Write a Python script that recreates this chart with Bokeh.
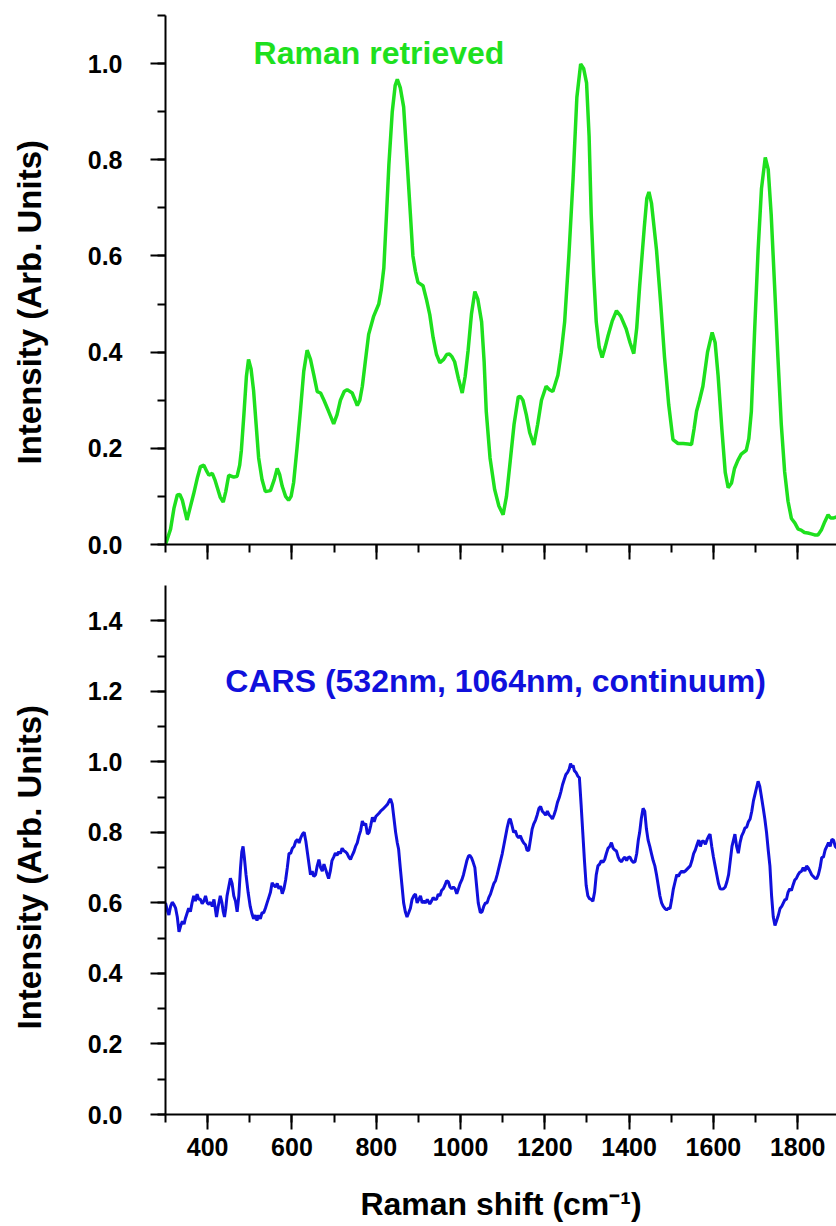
import math
from bokeh.plotting import figure
from bokeh.layouts import column, row
from bokeh.models import Range1d, SingleIntervalTicker, PrintfTickFormatter, Label, CustomJSTickFormatter
from bokeh.core.properties import value
from bokeh.embed import file_html
from bokeh.resources import INLINE

FONT = "Liberation Sans"
GREEN = "#1ee01e"
BLUE = "#1010dc"

# ---------------- data ----------------
raman_x = [300, 312, 320, 328, 334, 340, 351, 358, 367, 376, 383, 391, 398, 403, 411, 417, 423, 430, 437, 443,
           450, 462, 470, 476, 480, 486, 492, 497, 503, 509, 515, 521, 529, 537, 549, 558, 565, 571, 577, 585,
           592, 598, 604, 612, 620, 628, 636, 644, 652, 660, 668, 676, 687, 699, 707, 715, 724, 731, 743, 750,
           755, 761, 767, 774, 782, 794, 806, 812, 818, 824, 830, 838, 845, 850, 857, 865, 873, 881, 887, 893,
           899, 911, 919, 927, 935, 943, 951, 960, 967, 974, 980, 986, 995, 1004, 1011, 1018, 1026, 1034, 1041, 1050,
           1056, 1061, 1070, 1081, 1091, 1101, 1109, 1117, 1127, 1137, 1142, 1148, 1156, 1164, 1174, 1183, 1192, 1203, 1211, 1219,
           1231, 1239, 1247, 1257, 1267, 1276, 1285, 1292, 1299, 1305, 1310, 1316, 1322, 1329, 1336, 1343, 1350, 1360, 1370, 1380,
           1393, 1402, 1411, 1418, 1425, 1436, 1442, 1447, 1453, 1465, 1475, 1484, 1494, 1504, 1516, 1528, 1540, 1548, 1554, 1560,
           1567, 1575, 1586, 1597, 1604, 1611, 1620, 1628, 1635, 1643, 1650, 1658, 1666, 1678, 1684, 1690, 1698, 1706, 1714, 1723,
           1730, 1737, 1745, 1753, 1761, 1769, 1777, 1785, 1793, 1801, 1808, 1816, 1824, 1832, 1840, 1848, 1856, 1864, 1872, 1878,
           1884, 1895]
raman_y = [0.0, 0.032, 0.075, 0.103, 0.104, 0.092, 0.051, 0.075, 0.106, 0.14, 0.162, 0.165, 0.152, 0.144, 0.148, 0.135, 0.118, 0.098, 0.088, 0.11,
           0.144, 0.14, 0.142, 0.165, 0.196, 0.27, 0.35, 0.385, 0.365, 0.32, 0.25, 0.18, 0.135, 0.11, 0.112, 0.135, 0.158, 0.145, 0.121, 0.1,
           0.092, 0.1, 0.129, 0.2, 0.277, 0.36, 0.404, 0.385, 0.352, 0.318, 0.315, 0.3, 0.277, 0.251, 0.27, 0.30, 0.318, 0.322, 0.315, 0.3,
           0.289, 0.3, 0.329, 0.38, 0.437, 0.475, 0.50, 0.53, 0.575, 0.68, 0.79, 0.9, 0.955, 0.967, 0.95, 0.91, 0.8, 0.687, 0.6, 0.568,
           0.545, 0.538, 0.51, 0.478, 0.43, 0.395, 0.378, 0.385, 0.395, 0.396, 0.39, 0.38, 0.345, 0.315, 0.35, 0.404, 0.48, 0.526, 0.51, 0.463,
           0.38, 0.277, 0.18, 0.114, 0.08, 0.062, 0.1, 0.166, 0.25, 0.307, 0.308, 0.30, 0.27, 0.233, 0.207, 0.25, 0.30, 0.329, 0.322, 0.318,
           0.352, 0.4, 0.463, 0.6, 0.76, 0.93, 0.999, 0.99, 0.96, 0.85, 0.687, 0.56, 0.463, 0.41, 0.389, 0.41, 0.434, 0.465, 0.486, 0.475,
           0.448, 0.42, 0.397, 0.45, 0.538, 0.66, 0.72, 0.733, 0.71, 0.612, 0.5, 0.389, 0.29, 0.218, 0.21, 0.21, 0.209, 0.208, 0.24, 0.277,
           0.3, 0.329, 0.40, 0.441, 0.42, 0.352, 0.24, 0.15, 0.118, 0.128, 0.158, 0.175, 0.188, 0.196, 0.22, 0.277, 0.45, 0.612, 0.74, 0.805,
           0.78, 0.687, 0.54, 0.389, 0.25, 0.151, 0.09, 0.054, 0.045, 0.032, 0.03, 0.025, 0.024, 0.022, 0.02, 0.02, 0.03, 0.047, 0.062, 0.055,
           0.055, 0.058]

cars_x = [300, 304, 308, 312, 316, 320, 324, 328, 332, 336, 340, 344, 347, 351, 355, 359, 363, 367, 371, 375,
          379, 383, 387, 391, 395, 399, 403, 407, 411, 415, 418, 421, 425, 430, 434, 437, 440, 443, 446, 450,
          454, 458, 462, 466, 470, 474, 478, 481, 484, 487, 491, 496, 501, 505, 509, 513, 517, 521, 525, 529,
          533, 537, 541, 545, 549, 553, 557, 561, 565, 569, 573, 577, 581, 585, 589, 593, 597, 601, 605, 609,
          613, 617, 621, 625, 629, 633, 637, 641, 644, 648, 652, 656, 660, 664, 668, 672, 676, 680, 684, 687,
          691, 695, 699, 703, 707, 711, 715, 719, 723, 727, 731, 735, 739, 743, 747, 751, 755, 759, 763, 767,
          771, 775, 779, 783, 787, 791, 795, 799, 803, 807, 811, 815, 819, 823, 827, 831, 834, 838, 842, 846,
          850, 853, 857, 861, 865, 869, 873, 877, 881, 885, 889, 893, 897, 901, 905, 909, 913, 917, 921, 927,
          931, 935, 939, 943, 947, 951, 955, 959, 963, 967, 971, 975, 979, 983, 987, 991, 995, 999, 1003, 1007,
          1011, 1015, 1019, 1022, 1026, 1030, 1034, 1038, 1042, 1047, 1051, 1055, 1059, 1063, 1067, 1071, 1075, 1079, 1083, 1087,
          1091, 1095, 1099, 1103, 1107, 1111, 1115, 1118, 1122, 1126, 1130, 1134, 1138, 1142, 1146, 1150, 1154, 1158, 1162, 1166,
          1170, 1174, 1178, 1182, 1186, 1190, 1194, 1198, 1202, 1206, 1210, 1214, 1218, 1222, 1226, 1230, 1234, 1238, 1242, 1246,
          1250, 1254, 1258, 1261, 1264, 1267, 1270, 1274, 1278, 1282, 1286, 1290, 1294, 1298, 1302, 1306, 1310, 1314, 1318, 1322,
          1326, 1330, 1334, 1338, 1342, 1346, 1350, 1354, 1358, 1362, 1366, 1370, 1374, 1378, 1382, 1386, 1390, 1394, 1398, 1402,
          1406, 1410, 1414, 1418, 1422, 1425, 1429, 1433, 1437, 1441, 1445, 1449, 1453, 1457, 1461, 1465, 1469, 1473, 1477, 1481,
          1485, 1489, 1493, 1497, 1501, 1505, 1509, 1513, 1517, 1521, 1525, 1529, 1533, 1537, 1541, 1545, 1549, 1553, 1557, 1561,
          1565, 1569, 1573, 1577, 1581, 1585, 1589, 1592, 1596, 1600, 1604, 1608, 1612, 1616, 1620, 1624, 1628, 1632, 1636, 1640,
          1644, 1648, 1651, 1655, 1659, 1663, 1667, 1671, 1675, 1679, 1683, 1687, 1691, 1695, 1699, 1703, 1706, 1710, 1714, 1718,
          1722, 1726, 1730, 1734, 1738, 1742, 1746, 1750, 1754, 1758, 1762, 1766, 1770, 1773, 1777, 1781, 1785, 1789, 1793, 1797,
          1801, 1805, 1809, 1813, 1817, 1821, 1825, 1829, 1833, 1837, 1841, 1845, 1849, 1853, 1857, 1861, 1865, 1869, 1873, 1877,
          1881, 1885, 1889, 1895]
cars_y = [0.6, 0.58, 0.566, 0.59, 0.602, 0.595, 0.585, 0.56, 0.518, 0.535, 0.548, 0.54, 0.555, 0.57, 0.585, 0.575, 0.6, 0.62, 0.605, 0.625,
          0.61, 0.61, 0.598, 0.605, 0.62, 0.6, 0.596, 0.602, 0.59, 0.61, 0.585, 0.56, 0.59, 0.62, 0.6, 0.575, 0.56, 0.585, 0.62, 0.645,
          0.67, 0.655, 0.62, 0.605, 0.575, 0.62, 0.7, 0.745, 0.76, 0.73, 0.68, 0.63, 0.59, 0.57, 0.555, 0.565, 0.55, 0.565, 0.555, 0.572,
          0.572, 0.585, 0.6, 0.615, 0.63, 0.657, 0.65, 0.645, 0.655, 0.64, 0.648, 0.626, 0.64, 0.665, 0.7, 0.74, 0.741, 0.755, 0.76, 0.775,
          0.78, 0.77, 0.785, 0.795, 0.8, 0.775, 0.74, 0.705, 0.68, 0.69, 0.675, 0.68, 0.705, 0.723, 0.7, 0.69, 0.71, 0.695, 0.68, 0.669,
          0.69, 0.72, 0.73, 0.741, 0.735, 0.745, 0.74, 0.755, 0.748, 0.745, 0.74, 0.73, 0.723, 0.735, 0.745, 0.76, 0.77, 0.79, 0.805, 0.832,
          0.82, 0.825, 0.795, 0.8, 0.82, 0.843, 0.83, 0.845, 0.85, 0.855, 0.861, 0.865, 0.87, 0.875, 0.88, 0.89, 0.895, 0.88, 0.84, 0.8,
          0.77, 0.753, 0.7, 0.65, 0.6, 0.575, 0.56, 0.572, 0.585, 0.61, 0.62, 0.625, 0.6, 0.61, 0.62, 0.6, 0.605, 0.6, 0.61, 0.597,
          0.605, 0.615, 0.61, 0.61, 0.625, 0.62, 0.635, 0.64, 0.65, 0.663, 0.66, 0.645, 0.64, 0.645, 0.64, 0.626, 0.64, 0.655, 0.665, 0.68,
          0.7, 0.72, 0.733, 0.735, 0.728, 0.715, 0.70, 0.65, 0.6, 0.572, 0.575, 0.59, 0.6, 0.6, 0.615, 0.625, 0.64, 0.655, 0.663, 0.68,
          0.7, 0.72, 0.74, 0.765, 0.79, 0.815, 0.835, 0.838, 0.82, 0.8, 0.805, 0.79, 0.785, 0.79, 0.778, 0.77, 0.765, 0.748, 0.75, 0.78,
          0.81, 0.825, 0.835, 0.85, 0.868, 0.873, 0.86, 0.855, 0.849, 0.86, 0.85, 0.845, 0.838, 0.85, 0.865, 0.885, 0.898, 0.915, 0.935, 0.95,
          0.964, 0.97, 0.98, 0.995, 0.985, 0.99, 0.975, 0.97, 0.96, 0.955, 0.88, 0.8, 0.72, 0.65, 0.62, 0.612, 0.61, 0.605, 0.63, 0.68,
          0.705, 0.71, 0.72, 0.715, 0.723, 0.74, 0.755, 0.76, 0.771, 0.755, 0.75, 0.747, 0.73, 0.72, 0.717, 0.725, 0.73, 0.72, 0.729, 0.73,
          0.72, 0.715, 0.717, 0.74, 0.78, 0.80, 0.84, 0.868, 0.86, 0.81, 0.778, 0.76, 0.74, 0.72, 0.705, 0.68, 0.65, 0.62, 0.6, 0.59,
          0.584, 0.58, 0.585, 0.584, 0.61, 0.64, 0.66, 0.68, 0.675, 0.685, 0.69, 0.687, 0.69, 0.695, 0.7, 0.705, 0.72, 0.74, 0.75, 0.765,
          0.778, 0.76, 0.775, 0.775, 0.766, 0.78, 0.79, 0.795, 0.76, 0.73, 0.705, 0.68, 0.655, 0.64, 0.639, 0.64, 0.645, 0.66, 0.68, 0.72,
          0.76, 0.78, 0.795, 0.76, 0.741, 0.77, 0.79, 0.8, 0.813, 0.815, 0.83, 0.838, 0.86, 0.89, 0.91, 0.93, 0.945, 0.93, 0.9, 0.87,
          0.838, 0.8, 0.75, 0.705, 0.62, 0.56, 0.536, 0.55, 0.565, 0.584, 0.59, 0.6, 0.61, 0.609, 0.63, 0.64, 0.635, 0.651, 0.665, 0.67,
          0.68, 0.687, 0.69, 0.7, 0.69, 0.705, 0.699, 0.69, 0.68, 0.675, 0.67, 0.669, 0.68, 0.7, 0.729, 0.73, 0.75, 0.76, 0.771, 0.76,
          0.78, 0.778, 0.76, 0.753]

x_ticks_interval = 200
y_ticks_interval = 0.2

top_label = "Raman retrieved"
bottom_label = "CARS (532nm, 1064nm, continuum)"
y_title = "Intensity (Arb. Units)"
x_title = "Raman shift (cm\u207b\u00b9)"

# ---------------- figures ----------------
x_range = Range1d(300, 1892)


def make_fig(y_end, top_border, bottom_border):
    p = figure(frame_width=671, frame_height=529, x_range=x_range, y_range=Range1d(0, y_end),
               output_backend="svg", toolbar_location=None,
               min_border_left=105, min_border_right=0,
               min_border_top=top_border, min_border_bottom=bottom_border)
    p.outline_line_color = None
    p.grid.visible = False
    p.background_fill_color = "white"
    p.border_fill_color = "white"
    for ax in (p.xaxis[0], p.yaxis[0]):
        ax.axis_line_width = 2
        ax.axis_line_color = "black"
        ax.major_tick_line_width = 2
        ax.minor_tick_line_width = 2
        ax.major_tick_line_color = "black"
        ax.minor_tick_line_color = "black"
        ax.major_tick_in = 0
        ax.major_tick_out = 15
        ax.minor_tick_in = 0
        ax.minor_tick_out = 8
        ax.major_label_text_font = FONT
        ax.major_label_text_font_style = "bold"
        ax.major_label_text_font_size = "25px"
        ax.major_label_text_color = "black"
    p.xaxis[0].ticker = SingleIntervalTicker(interval=x_ticks_interval, num_minor_ticks=2)
    p.yaxis[0].ticker = SingleIntervalTicker(interval=y_ticks_interval, num_minor_ticks=2)
    p.yaxis[0].formatter = PrintfTickFormatter(format="%.1f")
    p.yaxis[0].major_label_standoff = 28
    return p


p1 = make_fig(1.1, 15, 30)
p1.xaxis[0].formatter = CustomJSTickFormatter(code="return ''")
p1.xaxis[0].major_label_standoff = 0
p1.line(raman_x, raman_y, line_color=GREEN, line_width=3.5)
p1.add_layout(Label(x=509, y=1.022, text=top_label, text_font=FONT, text_font_style="bold",
                    text_font_size="32px", text_color=GREEN, text_baseline="alphabetic"))

p2 = make_fig(1.5, 11, 112)
p2.xaxis[0].major_label_standoff = 8
p2.xaxis[0].axis_label = x_title
p2.xaxis[0].axis_label_standoff = 27
p2.xaxis[0].axis_label_text_font = FONT
p2.xaxis[0].axis_label_text_font_style = "bold"
p2.xaxis[0].axis_label_text_font_size = "32px"
p2.xaxis[0].axis_label_text_color = "black"
p2.line(cars_x, cars_y, line_color=BLUE, line_width=3.0)
p2.add_layout(Label(x=442, y=1.229, text=bottom_label, text_font=FONT, text_font_style="bold",
                    text_font_size="32px", text_color=BLUE, text_baseline="alphabetic"))

# left gutter holding the two rotated y-axis titles (page-pixel coordinates, y downward)
gutter = figure(width=60, height=1226, x_range=Range1d(0, 60), y_range=Range1d(1226, 0),
                x_axis_type=None, y_axis_type=None, output_backend="svg", toolbar_location=None,
                min_border=0)
gutter.outline_line_color = None
gutter.grid.visible = False
gutter.text(x=[29, 29], y=[464, 1029], text=[y_title, y_title], angle=math.pi / 2,
            text_align="left", text_baseline="middle", text_font=value(FONT),
            text_font_style="bold", text_font_size="33px", text_color="black")

layout = row(gutter, column(p1, p2, spacing=0), spacing=0)
open("out.html", "w").write(file_html(layout, INLINE))
